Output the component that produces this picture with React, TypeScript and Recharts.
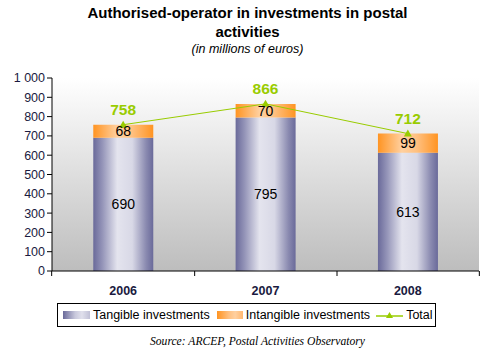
import React from 'react';
import { ComposedChart, Bar, Line, XAxis, YAxis, CartesianGrid, LabelList } from 'recharts';

const years = ['2006', '2007', '2008'];
const tangible = [690, 795, 613];
const intangible = [68, 70, 99];
const totals = [758, 866, 712];
const yTicks = [0, 100, 200, 300, 400, 500, 600, 700, 800, 900, 1000];

const data = years.map((y, i) => ({ year: y, tangible: tangible[i], intangible: intangible[i], total: totals[i] }));

const FONT = '"Liberation Sans", Arial, Helvetica, sans-serif';
const TICK = '#1a1a40';
const GREEN = '#99cc00';

const fmt = (v: number) => (v >= 1000 ? `${Math.floor(v / 1000)} ${String(v % 1000).padStart(3, '0')}` : String(v));

const Triangle = (props: any) => {
  const { cx, cy } = props;
  if (cx == null || cy == null) return null;
  return <path d={`M${cx},${cy - 4} L${cx + 4},${cy + 3} L${cx - 4},${cy + 3} Z`} fill={GREEN} />;
};

const XTick = (props: any) => {
  const { x, y, payload, index } = props;
  const half = 71.5;
  return (
    <g>
      {index === 0 && <line x1={x - half} y1={y - 8} x2={x - half} y2={y - 3} stroke="#000" />}
      <line x1={x + half} y1={y - 8} x2={x + half} y2={y - 3} stroke="#000" />
      <text x={x} y={y + 16} textAnchor="middle" fontFamily={FONT} fontSize={12.5} fontWeight="bold" fill={TICK}>
        {payload.value}
      </text>
    </g>
  );
};

export default function App() {
  return (
    <div style={{ position: 'absolute', left: 0, top: 0, width: 495, height: 357, background: '#fff', fontFamily: FONT }}>
      <div style={{ position: 'absolute', left: 0, top: 3, width: 495, textAlign: 'center', fontSize: 15, fontWeight: 'bold', lineHeight: '19px', color: '#000' }}>
        Authorised-operator in investments in postal
        <br />
        activities
      </div>
      <div style={{ position: 'absolute', left: 0, top: 42, width: 495, textAlign: 'center', fontSize: 12.5, fontStyle: 'italic', color: '#000' }}>
        (in millions of euros)
      </div>
      <ComposedChart width={495} height={357} data={data} margin={{ top: 78, right: 16, bottom: 56, left: 0 }} barCategoryGap="29%">
        <defs>
          <linearGradient id="bg" x1="0" y1="0" x2="0" y2="1">
            <stop offset="0%" stopColor="#ffffff" />
            <stop offset="100%" stopColor="#bdbdbd" />
          </linearGradient>
          <linearGradient id="purple" x1="0" y1="0" x2="1" y2="0">
            <stop offset="0%" stopColor="#6a6a9a" />
            <stop offset="15%" stopColor="#9494b8" />
            <stop offset="40%" stopColor="#e4e4ee" />
            <stop offset="65%" stopColor="#d8d8e6" />
            <stop offset="88%" stopColor="#8a8ab0" />
            <stop offset="100%" stopColor="#6a6a9a" />
          </linearGradient>
          <linearGradient id="orange" x1="0" y1="0" x2="1" y2="0">
            <stop offset="0%" stopColor="#ff9422" />
            <stop offset="40%" stopColor="#ffd0a0" />
            <stop offset="65%" stopColor="#ffc080" />
            <stop offset="100%" stopColor="#ff9422" />
          </linearGradient>
        </defs>
        <CartesianGrid horizontal={false} vertical={false} fill="url(#bg)" />
        <XAxis dataKey="year" axisLine={{ stroke: '#000' }} tickLine={false} tick={<XTick />} height={30} interval={0} />
        <YAxis
          domain={[0, 1000]}
          ticks={yTicks}
          tickFormatter={fmt}
          width={52}
          axisLine={{ stroke: '#000' }}
          tickLine={{ stroke: '#000' }}
          tickSize={5}
          tick={{ fill: TICK, fontSize: 12.5, fontFamily: FONT }}
          interval={0}
        />
        <Bar dataKey="tangible" stackId="a" fill="url(#purple)" isAnimationActive={false}>
          <LabelList dataKey="tangible" position="center" fill="#000" fontSize={14} fontFamily={FONT} />
        </Bar>
        <Bar dataKey="intangible" stackId="a" fill="url(#orange)" isAnimationActive={false}>
          <LabelList dataKey="intangible" position="center" fill="#000" fontSize={14} fontFamily={FONT} />
        </Bar>
        <Line dataKey="total" type="linear" stroke={GREEN} strokeWidth={1} dot={<Triangle />} activeDot={false} isAnimationActive={false}>
          <LabelList dataKey="total" position="top" offset={10} fill={GREEN} fontSize={15.5} fontWeight="bold" fontFamily={FONT} />
        </Line>
      </ComposedChart>
      <div style={{ position: 'absolute', left: 57, top: 303, width: 377, height: 22, border: '1px solid #000', display: 'flex', alignItems: 'center', fontSize: 12.5, color: '#000', boxSizing: 'content-box', whiteSpace: 'nowrap' }}>
        <span style={{ display: 'inline-block', width: 27, height: 8, marginLeft: 5, background: 'linear-gradient(to right, #6a6a9a, #c8c8dc 45%, #e0e0ec 70%, #c0c0d6)' }} />
        <span style={{ marginLeft: 3 }}>Tangible investments</span>
        <span style={{ display: 'inline-block', width: 26, height: 8, marginLeft: 7, background: 'linear-gradient(to right, #ff9422, #ffc080 45%, #ffd0a0 70%, #ffb870)' }} />
        <span style={{ marginLeft: 3 }}>Intangible investments</span>
        <svg width={27} height={10} style={{ marginLeft: 6 }}>
          <line x1={0} y1={6} x2={27} y2={6} stroke={GREEN} strokeWidth={1.5} />
          <path d="M13.5,2 L17,8 L10,8 Z" fill={GREEN} />
        </svg>
        <span style={{ marginLeft: 3 }}>Total</span>
      </div>
      <div style={{ position: 'absolute', left: 150, top: 335, whiteSpace: 'nowrap', fontSize: 11.6, fontStyle: 'italic', fontFamily: '"Liberation Serif", "Times New Roman", serif', color: '#000' }}>
        Source: ARCEP, Postal Activities Observatory
      </div>
    </div>
  );
}
